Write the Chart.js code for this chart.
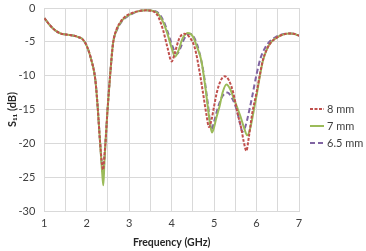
<!DOCTYPE html>
<html><head><meta charset="utf-8">
<script src="https://cdn.jsdelivr.net/npm/chart.js@4"></script>
<style>html,body{margin:0;padding:0;background:#fff;}#wrap{width:366px;height:251px;}</style>
</head><body><div id="wrap"><canvas id="c" width="366" height="251"></canvas></div>
<script>
const seriesLabels = ['8 mm', '7 mm', '6.5 mm'];
const xTickLabels = ['1', '2', '3', '4', '5', '6', '7'];
const yTickValues = [0, -5, -10, -15, -20, -25, -30];

const freq8 = [1.0,1.1,1.2,1.3,1.4,1.5,1.6,1.7,1.8,1.9,2.0,2.1,2.2,2.25,2.31,2.35,2.385,2.42,2.44,2.49,2.55,2.62,2.7,2.8,2.9,3.0,3.2,3.4,3.6,3.7,3.8,3.9,4.0,4.08,4.18,4.3,4.42,4.55,4.66,4.75,4.82,4.88,4.94,5.0,5.06,5.15,5.25,5.35,5.45,5.55,5.64,5.7,5.76,5.82,5.9,6.0,6.08,6.15,6.25,6.35,6.45,6.55,6.7,6.8,6.9,7.0];
const s11_8 = [-1.5,-2.3,-3.0,-3.5,-3.8,-3.9,-4.0,-4.1,-4.3,-4.6,-5.6,-7.5,-10.5,-14,-19.5,-22.5,-23.9,-21.5,-20,-15,-10,-5.2,-3.2,-2.0,-1.3,-0.9,-0.5,-0.35,-0.6,-1.5,-3.3,-5.8,-7.9,-6.5,-4.5,-3.8,-4.3,-6.0,-9.5,-13,-15.8,-17.6,-16.5,-14.5,-12.6,-10.8,-10.1,-10.7,-12.5,-15.5,-17.8,-19.8,-21.1,-19,-15.5,-12.5,-9.8,-7.7,-6.0,-5.0,-4.5,-4.1,-3.8,-3.75,-3.85,-4.1];

const freq7 = [1.0,1.1,1.2,1.3,1.4,1.5,1.6,1.7,1.8,1.9,2.0,2.1,2.2,2.25,2.31,2.365,2.39,2.415,2.44,2.49,2.55,2.62,2.7,2.8,2.9,3.0,3.2,3.4,3.6,3.7,3.8,3.9,4.0,4.08,4.16,4.25,4.38,4.5,4.6,4.7,4.8,4.88,4.95,5.0,5.05,5.13,5.2,5.29,5.38,5.46,5.55,5.62,5.7,5.78,5.85,5.93,6.01,6.08,6.15,6.25,6.35,6.45,6.55,6.7,6.8,6.9,7.0];
const s11_7 = [-1.5,-2.3,-3.0,-3.5,-3.8,-3.9,-4.0,-4.1,-4.3,-4.6,-5.6,-7.5,-10.5,-14,-19.5,-24.5,-26.2,-23,-20,-15,-10,-5.2,-3.3,-2.1,-1.4,-1.0,-0.5,-0.35,-0.5,-1.0,-2.1,-3.8,-5.9,-7.2,-6.3,-4.6,-3.7,-4.2,-5.8,-7.8,-12,-16,-18.4,-17.6,-16.3,-14.5,-12.5,-11.3,-12,-13.3,-14.8,-16,-17.6,-18.8,-17.8,-15.3,-12.6,-10,-7.8,-6.0,-5.0,-4.5,-4.1,-3.8,-3.75,-3.85,-4.1];

const freq65 = [1.0,1.1,1.2,1.3,1.4,1.5,1.6,1.7,1.8,1.9,2.0,2.1,2.2,2.25,2.31,2.36,2.385,2.42,2.44,2.49,2.55,2.62,2.7,2.8,2.9,3.0,3.2,3.4,3.6,3.7,3.8,3.9,4.0,4.07,4.13,4.2,4.3,4.43,4.55,4.65,4.75,4.85,4.94,5.0,5.1,5.2,5.31,5.42,5.53,5.6,5.67,5.72,5.78,5.84,5.9,6.0,6.1,6.2,6.3,6.45,6.55,6.7,6.8,6.9,7.0];
const s11_65 = [-1.5,-2.3,-3.0,-3.5,-3.8,-3.9,-4.0,-4.1,-4.3,-4.6,-5.6,-7.5,-10.5,-14,-19.5,-23.5,-24.7,-22,-20,-15,-10,-5.2,-3.4,-2.2,-1.5,-1.1,-0.5,-0.35,-0.45,-0.8,-1.8,-3.4,-5.3,-6.4,-6.8,-6.0,-4.5,-3.8,-4.6,-6.5,-9.5,-14,-18.0,-16.8,-14.5,-13,-12.5,-13.3,-15,-16.8,-18.3,-17.8,-16.5,-14.8,-13,-9.8,-7.3,-5.9,-5.0,-4.3,-4.0,-3.8,-3.75,-3.85,-4.1];

const seriesColors = ['#C0504D', '#9BBB59', '#8064A2'];
const seriesDash = [[3, 1.5], [], [5, 3]];

function pts(xs, ys) { return xs.map((x, i) => ({x: x, y: ys[i]})); }

const legendPlugin = {
  id: 'sideLegend',
  afterDraw(chart) {
    const ctx = chart.ctx;
    ctx.save();
    chart.data.datasets.forEach((ds, i) => {
      const y = 109 + i * 17;
      ctx.strokeStyle = ds.borderColor;
      ctx.lineWidth = 2;
      ctx.setLineDash(ds.borderDash || []);
      ctx.beginPath();
      ctx.moveTo(310, y);
      ctx.lineTo(324, y);
      ctx.stroke();
      ctx.setLineDash([]);
      ctx.fillStyle = '#404040';
      ctx.font = '11px Lato';
      ctx.textBaseline = 'middle';
      ctx.textAlign = 'left';
      ctx.fillText(ds.label, 327, y);
    });
    ctx.restore();
  }
};

new Chart(document.getElementById('c'), {
  type: 'line',
  data: {
    datasets: [
      {label: seriesLabels[0], data: pts(freq8, s11_8)},
      {label: seriesLabels[1], data: pts(freq7, s11_7)},
      {label: seriesLabels[2], data: pts(freq65, s11_65)}
    ].map((d, i) => Object.assign(d, {
      borderColor: seriesColors[i], backgroundColor: seriesColors[i],
      borderDash: seriesDash[i], borderWidth: 2, pointRadius: 0,
      cubicInterpolationMode: 'monotone', fill: false
    }))
  },
  options: {
    responsive: false, animation: false,
    layout: {padding: {left: 6, right: 67, top: 8, bottom: 1}},
    plugins: {legend: {display: false}, tooltip: {enabled: false}},
    scales: {
      x: {
        type: 'linear', min: 1, max: 7,
        grid: {color: '#D9D9D9', drawTicks: false},
        border: {color: '#D9D9D9'},
        afterFit: axis => { axis.height = 39; axis.paddingLeft = 0; axis.paddingRight = 0; },
        ticks: {
          stepSize: 0.5, autoSkip: false, maxRotation: 0, padding: 6,
          color: '#404040', font: {family: 'Lato', size: 11},
          callback: v => Number.isInteger(v) ? xTickLabels[v - 1] : ''
        },
        title: {display: true, text: 'Frequency (GHz)', color: '#262626',
          font: {family: 'Lato', size: 10.5, weight: 'bold'}, padding: {top: 0, bottom: 1}}
      },
      y: {
        min: -30, max: 0,
        grid: {color: '#D9D9D9', drawTicks: false},
        border: {color: '#D9D9D9'},
        afterBuildTicks: axis => { axis.ticks = yTickValues.map(v => ({value: v})); },
        afterFit: axis => { axis.width = 38.3; axis.paddingTop = 0; axis.paddingBottom = 0; },
        ticks: {stepSize: 5, padding: 9, color: '#404040', font: {family: 'Lato', size: 11}},
        title: {display: true, text: 'S₁₁ (dB)', color: '#262626',
          font: {family: 'Lato', size: 11, weight: 'bold'}, padding: {top: 0, bottom: 0}}
      }
    }
  },
  plugins: [legendPlugin]
});
</script></body></html>
